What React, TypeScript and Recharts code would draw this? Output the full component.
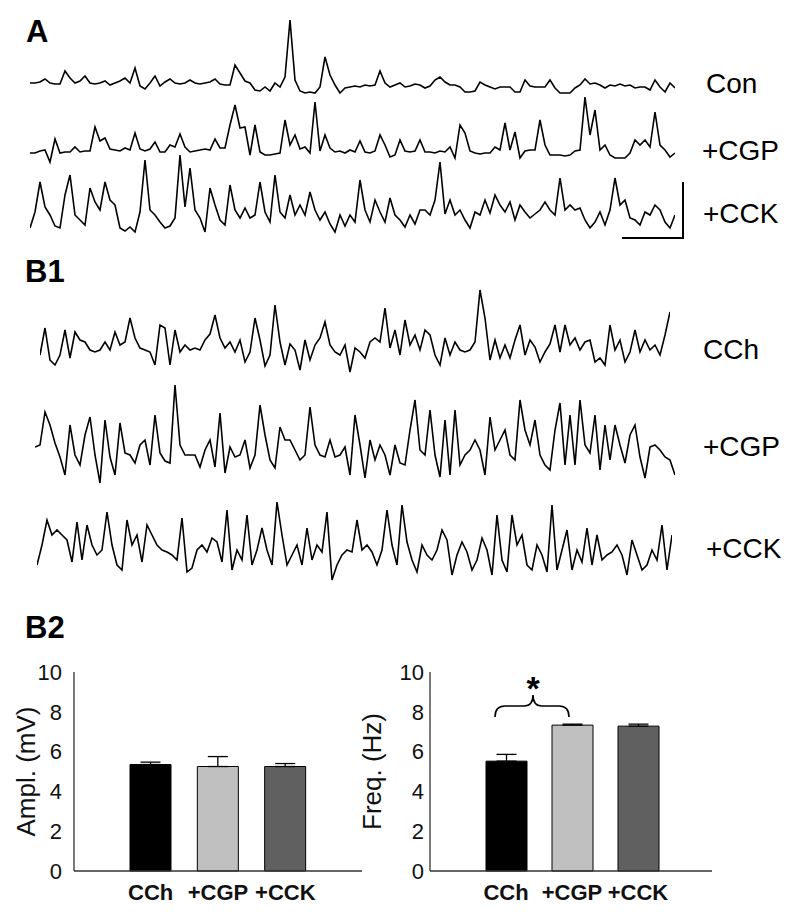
import { LineChart, Line, BarChart, Bar, XAxis, YAxis, Cell, ErrorBar } from "recharts";

// A: spontaneous activity (amplitude above baseline, arbitrary units)
const conA = [12,12,13,16,12,11,11,24,17,12,14,19,12,11,12,14,10,12,14,17,12,27,9,6,12,19,9,13,16,12,11,12,15,12,11,12,13,16,11,10,10,30,22,14,12,5,4,8,4,12,8,18,75,15,4,2,3,2,8,38,20,10,2,7,8,9,8,10,9,10,24,12,8,10,12,8,9,11,10,7,9,15,18,13,10,10,8,3,3,4,13,10,8,6,8,8,8,3,3,15,9,8,8,8,15,7,2,2,2,7,10,16,11,12,10,7,10,9,11,9,10,7,8,8,5,15,8,3,12,7];
const cgpA = [12,12,14,15,3,26,12,13,13,18,13,14,14,38,24,27,16,15,14,17,15,32,16,14,16,23,13,13,20,18,31,18,13,14,15,16,15,26,17,17,40,60,37,38,10,40,13,10,10,11,12,45,20,30,16,18,12,63,14,30,17,13,14,12,15,13,24,13,12,14,30,20,8,10,25,14,13,14,25,13,13,12,14,13,18,7,40,32,14,12,11,12,12,18,15,42,15,33,7,14,15,15,45,20,10,10,10,9,10,14,15,68,30,55,15,20,10,7,7,7,12,25,20,25,18,53,20,15,8,12];
const cckA = [12,28,58,33,25,14,12,45,65,25,20,15,52,38,30,58,40,35,12,9,13,8,28,80,30,25,18,12,14,22,85,33,72,30,22,8,52,35,20,15,55,30,22,32,22,25,58,28,18,65,28,22,45,25,35,25,48,30,20,28,16,8,25,14,25,18,60,30,18,40,28,18,42,25,20,13,25,16,30,30,25,40,78,26,40,25,30,20,12,28,25,40,27,45,35,28,38,20,35,28,22,26,30,38,30,25,62,30,35,30,32,20,12,18,28,15,30,62,35,40,22,20,15,28,25,35,30,18,12,25];

// B1: carbachol-induced oscillations
const cchB = [25,52,20,15,25,50,22,48,40,38,30,28,30,38,30,48,35,38,62,42,32,30,28,15,55,52,15,50,28,35,30,32,30,40,46,65,42,32,38,28,40,18,28,62,40,14,25,75,38,15,36,30,10,40,20,35,42,58,35,28,25,35,8,32,28,22,38,42,38,72,32,50,25,60,35,45,30,50,45,25,15,42,25,38,30,28,30,38,90,62,20,40,22,35,22,40,55,25,40,33,18,28,36,55,28,55,35,42,30,38,40,18,22,15,55,30,40,18,28,50,28,40,30,35,25,45,68];
const cgpB = [48,50,83,70,52,38,20,70,40,30,60,78,40,12,75,38,20,72,42,40,32,50,55,30,80,42,34,32,110,50,40,40,40,28,45,55,28,82,22,48,38,40,55,27,40,90,60,35,27,68,55,55,45,35,40,88,50,40,38,55,38,40,48,20,80,50,17,55,35,50,40,20,50,32,30,65,95,45,40,85,40,18,75,20,85,30,40,45,55,45,20,78,45,55,65,40,35,95,65,50,75,40,30,25,65,92,30,80,30,95,50,42,80,25,70,35,70,50,32,60,70,38,17,48,50,45,38,35,20];
const cckB = [25,45,70,55,60,55,50,28,68,30,65,45,35,40,78,45,25,20,70,45,55,28,65,55,45,40,38,35,30,72,18,22,40,45,38,52,48,28,80,20,40,30,75,25,40,62,40,25,88,55,25,35,45,25,62,30,45,38,78,10,25,35,40,38,70,40,45,38,25,40,80,45,25,85,48,30,18,45,35,30,40,60,50,15,35,48,38,20,30,52,40,15,75,30,18,75,45,55,25,20,45,35,18,85,20,40,60,20,40,28,62,25,55,30,35,38,45,35,15,50,35,20,25,40,30,65,20,55];

// B2: summary
const categories = ["CCh", "+CGP", "+CCK"];
const amplMean = [5.35, 5.25, 5.25];
const amplErr = [0.12, 0.5, 0.15];
const freqMean = [5.52, 7.33, 7.28];
const freqErr = [0.34, 0.05, 0.1];
const barColors = ["#000000", "#c0c0c0", "#606060"];
const yTicks = [0, 2, 4, 6, 8, 10];

const FONT = "'Liberation Sans', Arial, sans-serif";

type TraceProps = { values: number[]; left: number; right: number; base: number; hi: number };

function Trace({ values, left, right, base, hi }: TraceProps) {
  const lo = -4;
  const data = values.map((v, i) => ({ i, v }));
  return (
    <div style={{ position: "absolute", left, top: base - hi }}>
      <LineChart width={right - left} height={hi - lo} data={data} margin={{ top: 0, right: 0, bottom: 0, left: 0 }}>
        <XAxis type="number" dataKey="i" domain={[0, values.length - 1]} hide />
        <YAxis type="number" domain={[lo, hi]} hide />
        <Line dataKey="v" stroke="#000" strokeWidth={1.6} strokeLinejoin="miter" dot={false} isAnimationActive={false} />
      </LineChart>
    </div>
  );
}

type SummaryProps = {
  mean: number[];
  err: number[];
  title: string;
  left: number;
  width: number;
  axisWidth: number;
  labelOffset: number;
  tickMargin: number;
  padLeft: number;
  padRight: number;
};

function Summary({ mean, err, title, left, width, axisWidth, labelOffset, tickMargin, padLeft, padRight }: SummaryProps) {
  const data = categories.map((name, i) => ({ name, value: mean[i], err: [0, err[i]] }));
  return (
    <div style={{ position: "absolute", left, top: 650 }}>
      <BarChart width={width} height={260} data={data} margin={{ top: 22, right: 18, bottom: 9, left: 0 }}>
        <XAxis
          dataKey="name"
          axisLine={{ stroke: "#333", strokeWidth: 1.3 }}
          tickLine={false}
          tickSize={6}
          tickMargin={7}
          height={30}
          padding={{ left: padLeft, right: padRight }}
          tick={{ fontSize: 22, fontWeight: "bold", fill: "#111", fontFamily: FONT }}
        />
        <YAxis
          domain={[0, 10]}
          ticks={yTicks}
          width={axisWidth}
          axisLine={{ stroke: "#333", strokeWidth: 1.3 }}
          tickLine={false}
          tickSize={6}
          tickMargin={tickMargin}
          tick={{ fontSize: 22, fill: "#111", fontFamily: FONT }}
          label={{
            value: title,
            angle: -90,
            position: "insideLeft",
            offset: labelOffset,
            style: { textAnchor: "middle", fontSize: 26, fill: "#111", fontFamily: FONT },
          }}
        />
        <Bar dataKey="value" barSize={41} stroke="#000" strokeWidth={1} isAnimationActive={false}>
          {data.map((d, i) => (
            <Cell key={d.name} fill={barColors[i]} />
          ))}
          <ErrorBar dataKey="err" width={10} stroke="#000" strokeWidth={1.3} direction="y" />
        </Bar>
      </BarChart>
    </div>
  );
}

export default function App() {
  return (
    <div style={{ position: "relative", width: 800, height: 914, background: "#fff", fontFamily: FONT }}>
      <style>{"body{margin:0}"}</style>

      <Trace values={conA} left={30} right={675} base={95} hi={80} />
      <Trace values={cgpA} left={30} right={675} base={165} hi={72} />
      <Trace values={cckA} left={30} right={675} base={240} hi={92} />

      <Trace values={cchB} left={40} right={670} base={380} hi={100} />
      <Trace values={cgpB} left={35} right={675} base={495} hi={118} />
      <Trace values={cckB} left={37} right={672} base={590} hi={95} />

      <Summary mean={amplMean} err={amplErr} title="Ampl. (mV)" left={0} width={380}
        axisWidth={74} labelOffset={26} tickMargin={6} padLeft={43} padRight={43} />
      <Summary mean={freqMean} err={freqErr} title="Freq. (Hz)" left={340} width={390}
        axisWidth={90} labelOffset={32} tickMargin={0} padLeft={43} padRight={41} />

      <svg width={800} height={914} style={{ position: "absolute", left: 0, top: 0, pointerEvents: "none" }}>
        <g fontFamily={FONT} fill="#000">
          <text x={26} y={42} fontSize={31} fontWeight="bold">A</text>
          <text x={25} y={282} fontSize={31} fontWeight="bold">B1</text>
          <text x={25} y={638} fontSize={31} fontWeight="bold">B2</text>

          <text x={706} y={93} fontSize={28}>Con</text>
          <text x={702} y={160} fontSize={28}>+CGP</text>
          <text x={703} y={223} fontSize={28}>+CCK</text>
          <text x={703} y={359} fontSize={28}>CCh</text>
          <text x={703} y={456} fontSize={28}>+CGP</text>
          <text x={706} y={558} fontSize={28}>+CCK</text>

          <text x={533} y={700} fontSize={34} fontWeight="bold" textAnchor="middle">*</text>
        </g>
        {/* scale bar */}
        <path d="M683,182 L683,238 L622,238" stroke="#000" strokeWidth={2} fill="none" />
        {/* significance brace */}
        <path
          d="M495,717 Q495,706 505,706 L524,706 Q533,706 533,695 Q533,706 542,706 L559,706 Q569,706 569,717"
          stroke="#000"
          strokeWidth={1.6}
          fill="none"
        />
      </svg>
    </div>
  );
}
